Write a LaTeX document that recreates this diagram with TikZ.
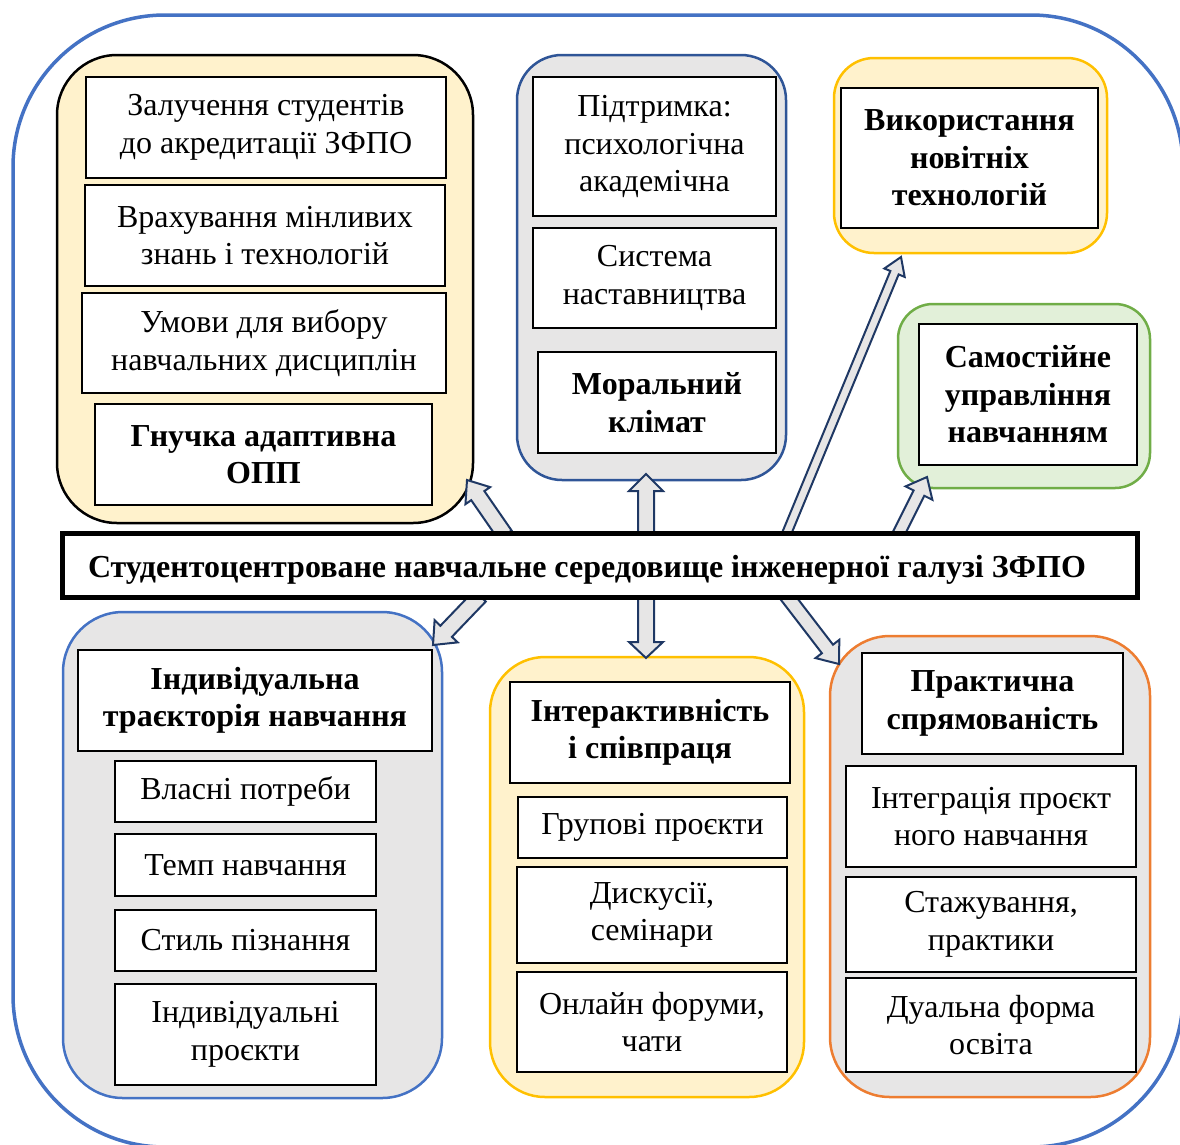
\documentclass[tikz,border=0pt]{standalone}
\usepackage{fontspec}
\setmainfont{Liberation Serif}
\usetikzlibrary{calc}

\definecolor{outerblue}{HTML}{4472C4}
\definecolor{gold}{HTML}{FFC000}
\definecolor{goldfill}{HTML}{FFF2CC}
\definecolor{greyfill}{HTML}{E7E6E6}
\definecolor{deepblue}{HTML}{2F5597}
\definecolor{leafgreen}{HTML}{70AD47}
\definecolor{leaffill}{HTML}{E2F0D9}
\definecolor{tangerine}{HTML}{ED7D31}
\definecolor{arrowline}{HTML}{1F3864}
\definecolor{arrowfill}{HTML}{E7E6E6}

\tikzset{
  txt/.style={font=\fontsize{32}{37.5}\selectfont},
  btxt/.style={font=\fontsize{32}{37.5}\selectfont\bfseries},
  group/.style={line width=2.5pt},
  cell/.style={draw=black, fill=white, line width=2pt, align=center, inner sep=0pt, txt},
  bcell/.style={cell, btxt},
  blockarr/.style={fill=arrowfill, draw=arrowline, line width=2pt, line join=miter},
}

% block arrow: start, tip, shaft half width, head half width, head length
\newcommand\blockarrow[5]{%
  \coordinate (bah) at ($(#2)!#5pt!(#1)$);
  \draw[blockarr]
    ($(#1)!#3pt!90:(#2)$) -- ($(bah)!#3pt!90:(#2)$) -- ($(bah)!#4pt!90:(#2)$)
    -- (#2)
    -- ($(bah)!#4pt!-90:(#2)$) -- ($(bah)!#3pt!-90:(#2)$) -- ($(#1)!#3pt!-90:(#2)$) -- cycle;
}

\begin{document}
\begin{tikzpicture}[x=1pt, y=-1pt]
\useasboundingbox (0,0) rectangle (1180,1144);
\clip (0,0) rectangle (1180,1144);

% outer frame
\draw[outerblue, line width=3.5pt, rounded corners=152pt] (13,15) rectangle (1183,1147);

% group panels
\node[group, draw=black, fill=goldfill, rounded corners=60pt, minimum width=416pt, minimum height=468pt] (gA) at (265,289) {};
\node[group, draw=deepblue, fill=greyfill, rounded corners=45pt, minimum width=269pt, minimum height=425pt] (gB) at (651.5,267.5) {};
\node[group, draw=gold, fill=goldfill, rounded corners=40pt, minimum width=273pt, minimum height=195pt] (gC) at (970.5,155.5) {};
\node[group, draw=leafgreen, fill=leaffill, rounded corners=35pt, minimum width=252pt, minimum height=184pt] (gD) at (1024,396) {};
\node[group, draw=outerblue, fill=greyfill, rounded corners=60pt, minimum width=379pt, minimum height=486pt] (gE) at (252.5,855) {};
\node[group, draw=gold, fill=goldfill, rounded corners=55pt, minimum width=314pt, minimum height=440pt] (gF) at (647,877) {};
\node[group, draw=tangerine, fill=greyfill, rounded corners=60pt, minimum width=320pt, minimum height=461pt] (gG) at (990,866.5) {};

% flexible programme
\node[cell, minimum width=360pt, minimum height=101pt] (A1) at (266,127.5) {Залучення студентів\\до акредитації ЗФПО};
\node[cell, minimum width=360pt, minimum height=101pt] (A2) at (265,235.5) {Врахування мінливих\\знань і технологій};
\node[cell, minimum width=364pt, minimum height=100pt] (A3) at (264,343) {Умови для вибору\\навчальних дисциплін};
\node[bcell, minimum width=337pt, minimum height=101pt] (A4) at (263.5,454.5) {Гнучка адаптивна\\ОПП};

% support
\node[cell, minimum width=243pt, minimum height=139pt] (B1) at (654.5,146.5) {Підтримка:\\психологічна\\академічна};
\node[cell, minimum width=243pt, minimum height=100pt] (B2) at (654.5,278) {Система\\наставництва};
\node[bcell, minimum width=238pt, minimum height=101pt] (B3) at (657,402.5) {Моральний\\клімат};

% technologies and self-management
\node[bcell, minimum width=257pt, minimum height=140pt] (C1) at (969.5,158) {Використання\\новітніх\\технологій};
\node[bcell, minimum width=218pt, minimum height=141pt] (D1) at (1028,394.5) {Самостійне\\управління\\навчанням};

% individual trajectory
\node[bcell, minimum width=354pt, minimum height=101pt] (E1) at (255,700.5) {Індивідуальна\\траєкторія навчання};
\node[cell, minimum width=261pt, minimum height=61pt] (E2) at (245.5,791.5) {Власні потреби};
\node[cell, minimum width=261pt, minimum height=62pt] (E3) at (245.5,865) {Темп навчання};
\node[cell, minimum width=261pt, minimum height=61pt] (E4) at (245.5,940.5) {Стиль пізнання};
\node[cell, minimum width=261pt, minimum height=101pt] (E5) at (245.5,1034.5) {Індивідуальні\\проєкти};

% interactivity
\node[bcell, minimum width=280pt, minimum height=101pt] (F1) at (650,732.5) {Інтерактивність\\і співпраця};
\node[cell, minimum width=269pt, minimum height=61pt] (F2) at (652.5,827.5) {Групові проєкти};
\node[cell, minimum width=270pt, minimum height=96pt] (F3) at (652,915) {Дискусії,\\семінари};
\node[cell, minimum width=270pt, minimum height=100pt] (F4) at (652,1022) {Онлайн форуми,\\чати};

% practical orientation
\node[bcell, minimum width=261pt, minimum height=101pt] (G1) at (992.5,703.5) {Практична\\спрямованість};
\node[cell, minimum width=290pt, minimum height=101pt] (G2) at (991,816.5) {Інтеграція проєкт\\ного навчання};
\node[cell, minimum width=290pt, minimum height=95pt] (G3) at (991,924.5) {Стажування,\\практики};
\node[cell, minimum width=290pt, minimum height=94pt] (G4) at (991,1025) {Дуальна форма\\освіта};

% arrow ends
\coordinate (sA) at (505,535);
\coordinate (tA) at (467,480);
\coordinate (sB) at (646,535);
\coordinate (tB) at (646,474);
\coordinate (sC) at (786,535);
\coordinate (tC) at (901,257);
\coordinate (sD) at (898,535);
\coordinate (tD) at (927,477);
\coordinate (sE) at (480,596);
\coordinate (tE) at (433,645);
\coordinate (sF) at (646,596);
\coordinate (tF) at (646,658);
\coordinate (sG) at (786,595);
\coordinate (tG) at (839,664);

\blockarrow{sA}{tA}{8}{15}{19}
\blockarrow{sB}{tB}{8}{17}{17}
\blockarrow{sC}{tC}{4.5}{11}{17}
\blockarrow{sD}{tD}{6}{15}{18}
\blockarrow{sE}{tE}{8}{16}{19}
\blockarrow{sF}{tF}{8}{17}{16}
\blockarrow{sG}{tG}{7}{15}{19}

% central statement
\node[draw=black, fill=white, line width=5pt, minimum width=1075pt, minimum height=64pt, inner sep=0pt, btxt] (bar) at (599.5,565)
  {\raisebox{-12pt}[0pt][0pt]{Студентоцентроване навчальне середовище інженерної галузі ЗФПО}\hspace*{25pt}};
\end{tikzpicture}
\end{document}
